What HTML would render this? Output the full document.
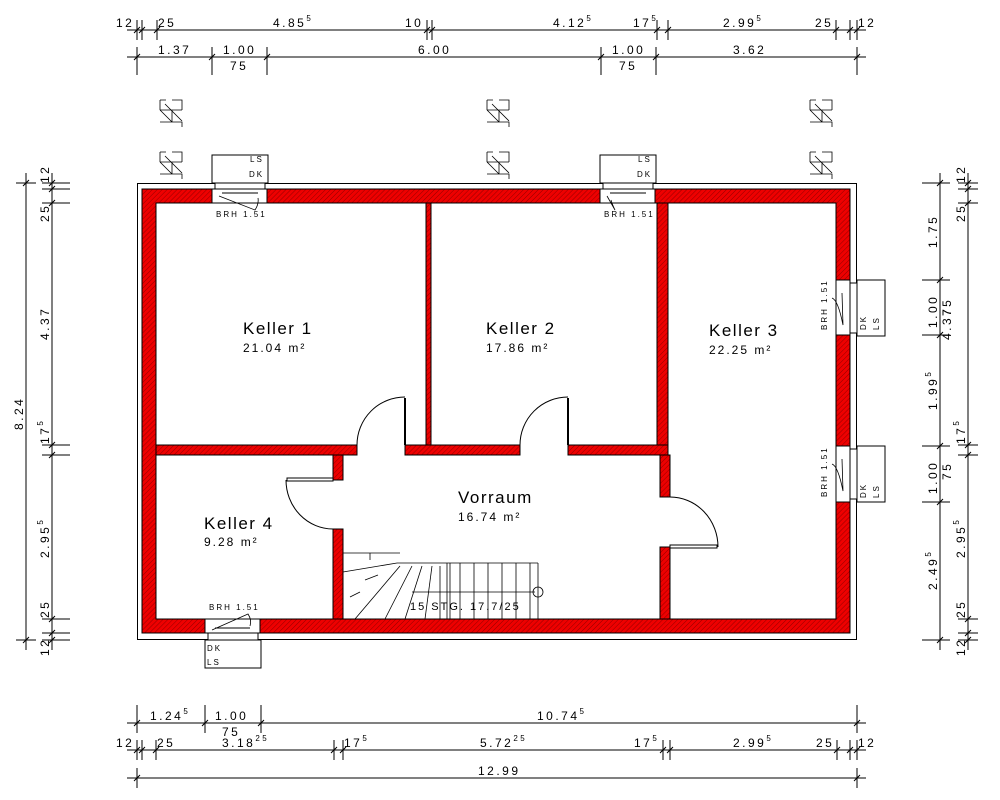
<!DOCTYPE html>
<html><head><meta charset="utf-8"><style>
html,body{margin:0;padding:0;background:#fff;}
svg{display:block;}
text{font-family:"Liberation Sans",sans-serif;fill:#000;}
.d{font-size:12px;letter-spacing:2.5px;}
.s{font-size:8px;}
.r{font-size:17px;letter-spacing:1.5px;}
.a{font-size:12px;letter-spacing:2px;}
.sm{font-size:8px;letter-spacing:2px;}
</style></head><body>
<svg width="1000" height="800" viewBox="0 0 1000 800" xmlns="http://www.w3.org/2000/svg">
<defs>
<pattern id="h" patternUnits="userSpaceOnUse" width="3.5" height="3.5" patternTransform="rotate(45)">
<rect width="3.5" height="3.5" fill="#ee0000"/>
<line x1="0" y1="0" x2="0" y2="3.5" stroke="#6a0000" stroke-width="0.7"/>
</pattern>
</defs>
<g stroke="#000" stroke-width="1" fill="none">
<rect x="137.5" y="183.5" width="719" height="456"/>
</g>
<g fill="url(#h)" stroke="#000" stroke-width="1">
<path d="M142,189 H850 V633 H142 Z M156,203 V619 H836 V203 Z" fill-rule="evenodd"/>
<rect x="426" y="203" width="5" height="242"/>
<rect x="657" y="203" width="11" height="242"/>
<rect x="156" y="445" width="201" height="10"/>
<rect x="405" y="445" width="115" height="10"/>
<rect x="568" y="445" width="100" height="10"/>
<rect x="333" y="455" width="10" height="25"/>
<rect x="333" y="529" width="10" height="90"/>
<rect x="660" y="455" width="10" height="42"/>
<rect x="660" y="547" width="10" height="72"/>
</g>
<g stroke="#000" stroke-width="1" fill="#fff">
<rect x="212" y="189" width="55" height="14"/>
<rect x="212" y="155" width="56" height="28"/>
<rect x="215" y="183" width="50" height="6"/>
<line x1="222" y1="193" x2="258" y2="193"/>
<rect x="600" y="189" width="55" height="14"/>
<rect x="600" y="155" width="56" height="28"/>
<rect x="603" y="183" width="50" height="6"/>
<line x1="610" y1="193" x2="646" y2="193"/>
<rect x="205" y="619" width="55" height="14"/>
<rect x="205" y="640" width="56" height="28"/>
<rect x="208" y="633" width="50" height="7"/>
<line x1="215" y1="628" x2="250" y2="628"/>
<rect x="836" y="280" width="14" height="55"/>
<rect x="857" y="280" width="28" height="56"/>
<rect x="850" y="283" width="7" height="50"/>
<rect x="836" y="446" width="14" height="56"/>
<rect x="857" y="446" width="28" height="56"/>
<rect x="850" y="449" width="7" height="50"/>
</g>
<g stroke="#000" stroke-width="0.8" fill="none">
<path d="M219,196 L255,210 Q259,204 258,198"/>
<path d="M607,196 L615,210 Q612,204 611,200"/>
<path d="M212,630 L248,614 Q252,620 250,626"/>
<path d="M842,293 L843,325 Q838,300 832,298"/>
<path d="M842,459 L843,491 Q838,466 832,464"/>
</g>
<g class="sm">
<text x="216" y="217">BRH 1.51</text>
<text x="604" y="217">BRH 1.51</text>
<text x="209" y="610">BRH 1.51</text>
<text class="s" x="250" y="162">LS</text>
<text class="s" x="249" y="177">DK</text>
<text class="s" x="638" y="162">LS</text>
<text class="s" x="637" y="177">DK</text>
<text class="s" x="207" y="651">DK</text>
<text class="s" x="207" y="665">LS</text>
<text transform="translate(827,330) rotate(-90)">BRH 1.51</text>
<text transform="translate(827,497) rotate(-90)">BRH 1.51</text>
<text class="s" transform="translate(866,330) rotate(-90)">DK</text>
<text class="s" transform="translate(879,330) rotate(-90)">LS</text>
<text class="s" transform="translate(866,498) rotate(-90)">DK</text>
<text class="s" transform="translate(879,498) rotate(-90)">LS</text>
</g>
<g stroke="#000" fill="none">
<path d="M357,445 A48,48 0 0 1 405,397" stroke-width="1"/>
<line x1="405" y1="445" x2="405" y2="398" stroke-width="2"/>
<path d="M520,445 A48,48 0 0 1 568,397" stroke-width="1"/>
<line x1="568" y1="445" x2="568" y2="398" stroke-width="2"/>
<path d="M286,480 A47,49 0 0 0 333,529" stroke-width="1"/>
<rect x="287" y="478" width="46" height="3" stroke-width="1" fill="#fff"/>
<path d="M670,497 A48,50 0 0 1 718,547" stroke-width="1"/>
<rect x="670" y="545" width="47" height="3" stroke-width="1" fill="#fff"/>
</g>
<g stroke="#000" stroke-width="0.8" fill="none">
<line x1="397" y1="563" x2="538" y2="563"/>
<line x1="538" y1="563" x2="538" y2="619"/>
<line x1="447" y1="563" x2="447" y2="619"/>
<line x1="450" y1="563" x2="450" y2="619"/>
<line x1="460" y1="563" x2="460" y2="619"/>
<line x1="474" y1="563" x2="474" y2="619"/>
<line x1="488" y1="563" x2="488" y2="619"/>
<line x1="502" y1="563" x2="502" y2="619"/>
<line x1="516" y1="563" x2="516" y2="619"/>
<line x1="530" y1="563" x2="530" y2="619"/>
<line x1="343" y1="572" x2="397" y2="563"/>
<line x1="355" y1="619" x2="400" y2="566"/>
<line x1="385" y1="619" x2="412" y2="566"/>
<line x1="405" y1="619" x2="422" y2="566"/>
<line x1="425" y1="619" x2="432" y2="566"/>
<line x1="440" y1="619" x2="440" y2="566"/>
<line x1="412" y1="592" x2="535" y2="592"/>
<circle cx="538" cy="592" r="5"/>
<line x1="343" y1="553" x2="400" y2="553"/>
<line x1="370" y1="553" x2="370" y2="560"/>
<line x1="365" y1="580" x2="378" y2="575"/>
<line x1="350" y1="597" x2="360" y2="592"/>
</g>
<text class="sm" x="410" y="610" style="font-size:11px">15 STG. 17.7/25</text>
<g stroke="#000" stroke-width="0.8" fill="none">
<g id="sym"><path d="M160,100 h6 M160,100 v10 M160,110 h22 M172,100 h10 v10 M165,104 l17,17 M160,110 l12,12 M172,110 v12 M160,122 h22 v5"/></g>
<use href="#sym" y="52"/>
<use href="#sym" x="327"/><use href="#sym" x="327" y="52"/>
<use href="#sym" x="650"/><use href="#sym" x="650" y="52"/>
</g>
<text class="r" x="243" y="334">Keller 1</text><text class="a" x="243" y="352">21.04 m²</text>
<text class="r" x="486" y="334">Keller 2</text><text class="a" x="486" y="352">17.86 m²</text>
<text class="r" x="709" y="336">Keller 3</text><text class="a" x="709" y="354">22.25 m²</text>
<text class="r" x="204" y="529">Keller 4</text><text class="a" x="204" y="546">9.28 m²</text>
<text class="r" x="458" y="503">Vorraum</text><text class="a" x="458" y="521">16.74 m²</text>
<g stroke="#000" stroke-width="1" fill="none">
<line x1="127" y1="30" x2="866" y2="30"/>
<line x1="127" y1="57" x2="866" y2="57"/>
<line x1="127" y1="723" x2="866" y2="723"/>
<line x1="127" y1="750" x2="866" y2="750"/>
<line x1="127" y1="778" x2="866" y2="778"/>
<line x1="26" y1="173" x2="26" y2="650"/>
<line x1="52" y1="173" x2="52" y2="650"/>
<line x1="940" y1="173" x2="940" y2="650"/>
<line x1="968" y1="173" x2="968" y2="650"/>
</g>
<g stroke="#000" stroke-width="1">
<path d="M137,20V40M142,20V40M157,20V40M427,20V40M432,20V40M657,20V40M668,20V40M836,20V40M850,20V40M857,20V40"/>
<path d="M134,33l6,-6M139,33l6,-6M154,33l6,-6M424,33l6,-6M429,33l6,-6M654,33l6,-6M665,33l6,-6M833,33l6,-6M847,33l6,-6M854,33l6,-6"/>
<path d="M137,47V75M212,47V75M267,47V75M601,47V75M656,47V75M857,47V75"/>
<path d="M134,60l6,-6M209,60l6,-6M264,60l6,-6M598,60l6,-6M653,60l6,-6M854,60l6,-6"/>
<path d="M137,705V733M205,705V733M261,705V733M857,705V733"/>
<path d="M134,726l6,-6M202,726l6,-6M258,726l6,-6M854,726l6,-6"/>
<path d="M137,740V760M142,740V760M156,740V760M334,740V760M343,740V760M663,740V760M670,740V760M837,740V760M850,740V760M857,740V760"/>
<path d="M134,753l6,-6M139,753l6,-6M153,753l6,-6M331,753l6,-6M340,753l6,-6M660,753l6,-6M667,753l6,-6M834,753l6,-6M847,753l6,-6M854,753l6,-6"/>
<path d="M137,768V788M857,768V788M134,781l6,-6M854,781l6,-6"/>
<path d="M16,183H36M16,640H36M23,186l6,-6M23,643l6,-6"/>
<path d="M42,183H70M42,189H70M42,203H70M42,445H70M42,455H70M42,619H70M42,633H70M42,640H70"/>
<path d="M49,186l6,-6M49,192l6,-6M49,206l6,-6M49,448l6,-6M49,458l6,-6M49,622l6,-6M49,636l6,-6M49,643l6,-6"/>
<path d="M922,183H950M922,280H950M922,335H950M922,446H950M922,502H950M922,640H950"/>
<path d="M937,186l6,-6M937,283l6,-6M937,338l6,-6M937,449l6,-6M937,505l6,-6M937,643l6,-6"/>
<path d="M958,183H978M958,189H978M958,203H978M958,445H978M958,455H978M958,619H978M958,633H978M958,640H978"/>
<path d="M965,186l6,-6M965,192l6,-6M965,206l6,-6M965,448l6,-6M965,458l6,-6M965,622l6,-6M965,636l6,-6M965,643l6,-6"/>
</g>
<g class="d">
<text x="116" y="27">12</text><text x="158" y="27">25</text>
<text x="273" y="27">4.85<tspan dy="-6" font-size="8">5</tspan></text>
<text x="405" y="27">10</text>
<text x="553" y="27">4.12<tspan dy="-6" font-size="8">5</tspan></text>
<text x="633" y="27">17<tspan dy="-6" font-size="8">5</tspan></text>
<text x="723" y="27">2.99<tspan dy="-6" font-size="8">5</tspan></text>
<text x="815" y="27">25</text><text x="858" y="27">12</text>
<text x="158" y="54">1.37</text><text x="223" y="54">1.00</text><text x="230" y="70">75</text>
<text x="418" y="54">6.00</text><text x="612" y="54">1.00</text><text x="619" y="70">75</text>
<text x="733" y="54">3.62</text>
<text x="150" y="720">1.24<tspan dy="-6" font-size="8">5</tspan></text>
<text x="215" y="720">1.00</text><text x="222" y="736">75</text>
<text x="537" y="720">10.74<tspan dy="-6" font-size="8">5</tspan></text>
<text x="116" y="747">12</text><text x="157" y="747">25</text>
<text x="222" y="747">3.18<tspan dy="-6" font-size="8">25</tspan></text>
<text x="344" y="747">17<tspan dy="-6" font-size="8">5</tspan></text>
<text x="480" y="747">5.72<tspan dy="-6" font-size="8">25</tspan></text>
<text x="634" y="747">17<tspan dy="-6" font-size="8">5</tspan></text>
<text x="733" y="747">2.99<tspan dy="-6" font-size="8">5</tspan></text>
<text x="816" y="747">25</text><text x="858" y="747">12</text>
<text x="478" y="775">12.99</text>
<text transform="translate(23,430) rotate(-90)">8.24</text>
<text transform="translate(49,183) rotate(-90)">12</text>
<text transform="translate(49,222) rotate(-90)">25</text>
<text transform="translate(49,340) rotate(-90)">4.37</text>
<text transform="translate(49,444) rotate(-90)">17<tspan dy="-6" font-size="8">5</tspan></text>
<text transform="translate(49,558) rotate(-90)">2.95<tspan dy="-6" font-size="8">5</tspan></text>
<text transform="translate(49,618) rotate(-90)">25</text>
<text transform="translate(49,656) rotate(-90)">12</text>
<text transform="translate(937,248) rotate(-90)">1.75</text>
<text transform="translate(937,328) rotate(-90)">1.00</text>
<text transform="translate(951,316) rotate(-90)">75</text>
<text transform="translate(951,340) rotate(-90)">4.37</text>
<text transform="translate(937,410) rotate(-90)">1.99<tspan dy="-6" font-size="8">5</tspan></text>
<text transform="translate(937,494) rotate(-90)">1.00</text>
<text transform="translate(951,480) rotate(-90)">75</text>
<text transform="translate(937,590) rotate(-90)">2.49<tspan dy="-6" font-size="8">5</tspan></text>
<text transform="translate(965,183) rotate(-90)">12</text>
<text transform="translate(965,222) rotate(-90)">25</text>
<text transform="translate(965,444) rotate(-90)">17<tspan dy="-6" font-size="8">5</tspan></text>
<text transform="translate(965,558) rotate(-90)">2.95<tspan dy="-6" font-size="8">5</tspan></text>
<text transform="translate(965,618) rotate(-90)">25</text>
<text transform="translate(965,656) rotate(-90)">12</text>
</g>
</svg>
</body></html>
